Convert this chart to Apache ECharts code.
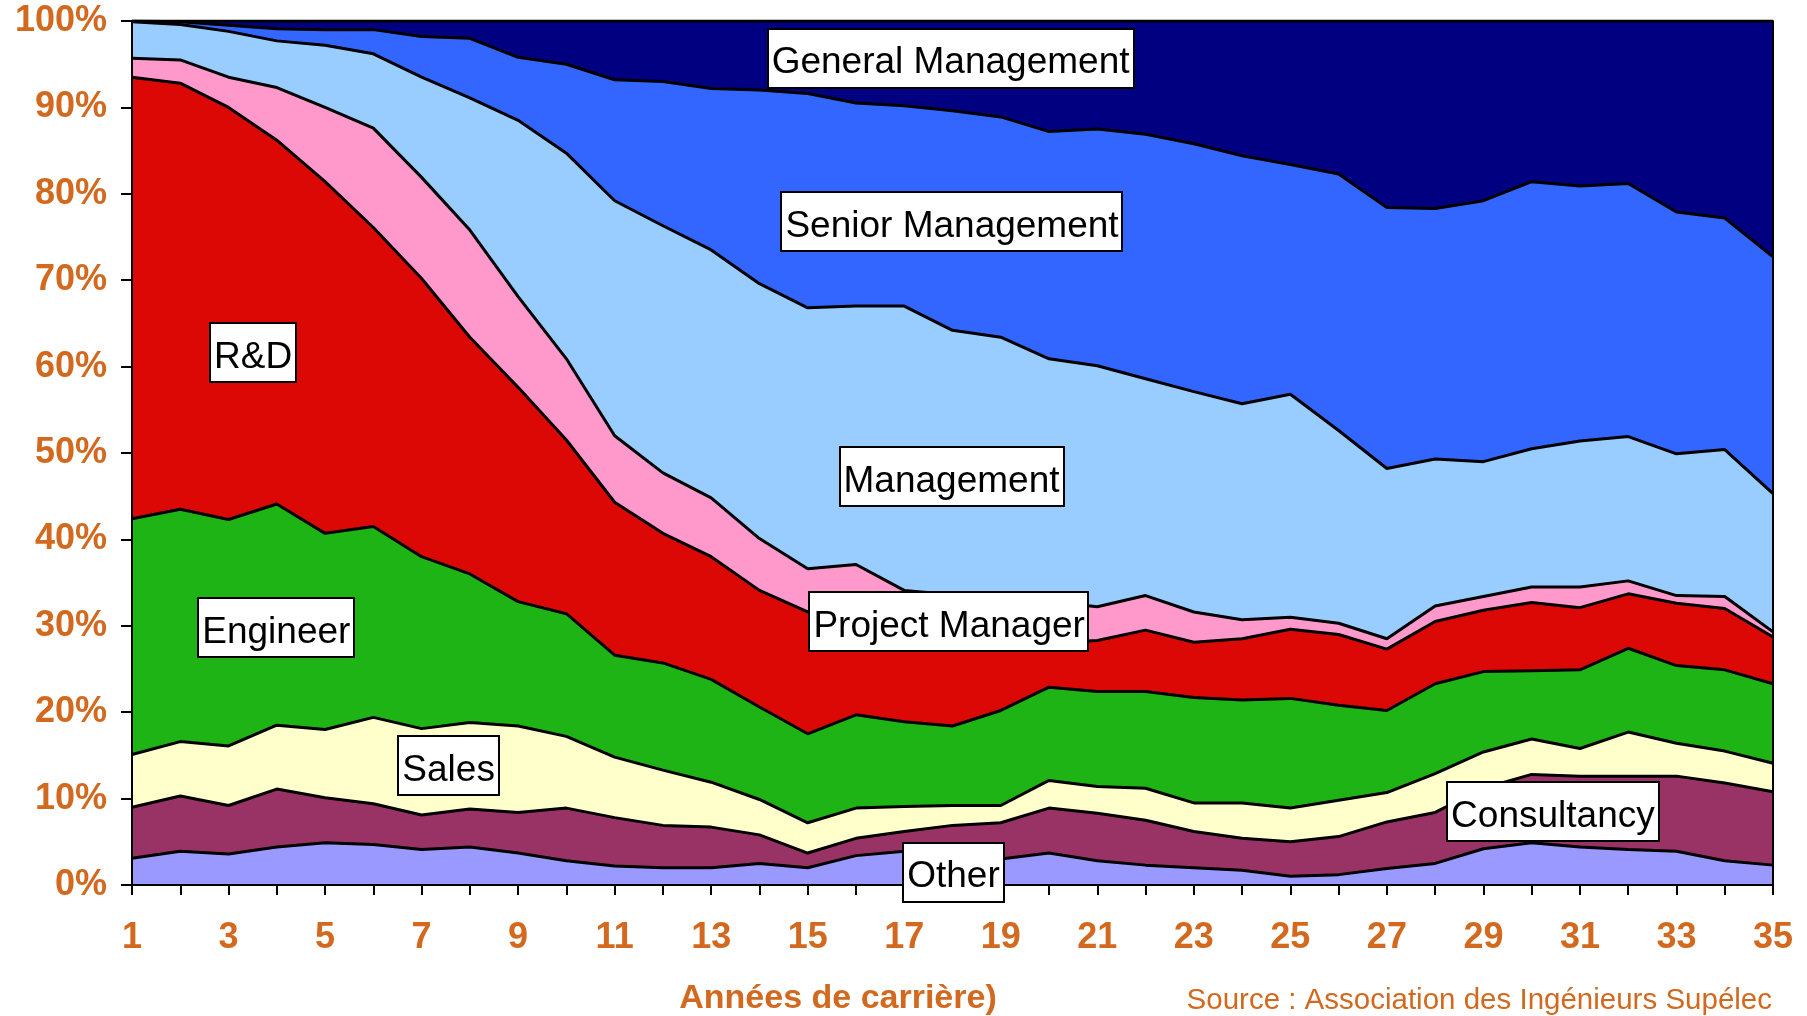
<!DOCTYPE html>
<html><head><meta charset="utf-8">
<script src="https://cdn.jsdelivr.net/npm/echarts@6/dist/echarts.min.js"></script>
<style>html,body{margin:0;padding:0;background:#fff}#c{width:1807px;height:1016px}</style>
</head><body><div id="c"></div>
<script>
const years = ['1','2','3','4','5','6','7','8','9','10','11','12','13','14','15','16','17','18','19','20','21','22','23','24','25','26','27','28','29','30','31','32','33','34','35'];
const yTicks = [0,10,20,30,40,50,60,70,80,90,100];
const other = [3.1,3.9,3.6,4.4,4.9,4.7,4.1,4.4,3.7,2.8,2.2,2.0,2.0,2.5,2.0,3.4,3.9,3.4,3.0,3.7,2.8,2.3,2.0,1.7,1.0,1.2,1.9,2.5,4.2,4.9,4.4,4.1,3.9,2.8,2.3];
const consultancy = [5.9,6.4,5.6,6.7,5.2,4.7,4.0,4.4,4.7,6.1,5.6,4.9,4.7,3.3,1.7,2.0,2.3,3.5,4.2,5.2,5.5,5.2,4.2,3.7,4.0,4.4,5.4,5.9,7.0,7.9,8.2,8.5,8.7,9.0,8.5];
const sales = [6.1,6.3,6.9,7.4,7.9,10.0,10.0,10.0,10.0,8.3,7.0,6.4,5.2,4.1,3.5,3.5,2.9,2.3,2.0,3.2,3.1,3.7,3.3,4.1,3.9,4.2,3.4,4.5,4.2,4.1,3.2,5.1,3.8,3.7,3.3];
const engineer = [27.3,26.9,26.2,25.6,22.7,22.1,19.9,17.2,14.4,14.2,11.8,12.4,11.9,10.7,10.3,10.8,9.8,9.2,11.0,10.8,11.0,11.2,12.2,11.9,12.7,11.0,9.5,10.4,9.3,7.9,9.1,9.7,9.0,9.4,9.2];
const rnd = [51.1,49.3,47.7,42.1,40.7,34.6,32.2,27.4,24.8,20.1,17.7,15.0,14.2,13.5,14.1,10.8,10.6,10.4,8.1,5.1,5.9,7.1,6.4,7.1,8.0,8.2,7.1,7.2,7.1,7.9,7.2,6.3,7.2,7.1,5.4];
const projectManager = [2.2,2.7,3.5,6.1,8.6,11.5,11.7,12.4,10.5,9.4,7.7,7.0,6.8,6.0,5.0,6.6,4.6,4.8,4.9,4.8,3.9,4.0,3.5,2.2,1.4,1.3,1.2,1.8,1.6,1.8,2.4,1.5,0.9,1.4,0.6];
const management = [4.2,4.1,5.3,5.4,7.2,8.6,11.6,15.3,20.4,23.8,27.2,28.6,28.7,29.5,30.2,29.9,32.9,30.6,30.2,28.1,27.9,25.1,25.5,25.0,25.8,22.3,19.7,17.0,15.6,16.0,16.9,16.7,16.4,17.0,16.0];
const seniorManagement = [0.1,0.3,0.7,1.4,1.8,2.8,4.7,6.9,7.3,10.3,14.0,16.7,18.7,22.4,24.8,23.5,23.2,25.4,25.5,26.3,27.4,28.3,28.7,28.7,26.6,29.7,30.2,29.0,30.2,30.9,29.5,29.3,28.0,26.8,27.4];
const generalManagement = [0.0,0.1,0.5,0.9,1.0,1.0,1.8,2.0,4.2,5.0,6.8,7.0,7.8,8.0,8.4,9.5,9.8,10.4,11.1,12.8,12.5,13.1,14.2,15.6,16.6,17.7,21.6,21.7,20.8,18.6,19.1,18.8,22.1,22.8,27.3];

const seriesNames = ['Other','Consultancy','Sales','Engineer','R&D','Project Manager','Management','Senior Management','General Management'];
const seriesValues = [other, consultancy, sales, engineer, rnd, projectManager, management, seniorManagement, generalManagement];
const colors = ['#9999FF','#993366','#FFFFCC','#1EB416','#DC0806','#FF99CC','#99CCFF','#3366FF','#000080'];

// annotation anchors (year, percent) for the boxed labels
const annotations = [
  ['General Management', 17.96, 95.7],
  ['Senior Management', 17.99, 76.8],
  ['Management', 17.98, 47.25],
  ['Project Manager', 17.93, 30.5],
  ['Other', 18.02, 1.5],
  ['R&D', 3.51, 61.6],
  ['Engineer', 3.99, 29.8],
  ['Sales', 7.56, 13.8],
  ['Consultancy', 30.44, 8.5]
];

const ORANGE = '#D2691E';
const FONT = '"Liberation Sans", Arial, Helvetica, sans-serif';
const chart = echarts.init(document.getElementById('c'), null, {renderer: 'canvas'});

chart.setOption({
  animation: false,
  backgroundColor: '#fff',
  grid: {left: 132, right: 34, top: 21, bottom: 131},
  xAxis: {
    type: 'category', data: years, boundaryGap: false, z: 10,
    axisLine: {show: true, lineStyle: {color: '#000', width: 2}},
    axisTick: {show: true, interval: 0, length: 10, lineStyle: {color: '#000', width: 2}},
    axisLabel: {interval: 1, color: ORANGE, fontWeight: 'bold', fontSize: 36, fontFamily: FONT, margin: 35},
    splitLine: {show: false}
  },
  yAxis: [{
    type: 'value', min: yTicks[0], max: yTicks[yTicks.length - 1], interval: 10, z: 10,
    axisLine: {show: true, lineStyle: {color: '#000', width: 2}},
    axisTick: {show: true, length: 11, lineStyle: {color: '#000', width: 2}},
    axisLabel: {formatter: '{value}%', color: ORANGE, fontWeight: 'bold', fontSize: 36, fontFamily: FONT, margin: 25},
    splitLine: {show: false}
  }, {
    type: 'value', position: 'right', min: 0, max: 100, z: 10,
    axisLine: {show: true, lineStyle: {color: '#000', width: 2}},
    axisTick: {show: false}, axisLabel: {show: false}, splitLine: {show: false}
  }],
  series: seriesNames.map((name, i) => ({
    name: name, type: 'line', stack: 'total', yAxisIndex: 0,
    data: seriesValues[i],
    showSymbol: false, symbol: 'none',
    lineStyle: {color: '#000', width: 3},
    areaStyle: {color: colors[i], opacity: 1},
    itemStyle: {color: colors[i]},
    z: 2
  }))
});

function yearToPixel(yr, pct) {
  const i0 = Math.floor(yr - 1), i1 = Math.min(i0 + 1, years.length - 1);
  const f = (yr - 1) - i0;
  const p0 = chart.convertToPixel({xAxisIndex: 0, yAxisIndex: 0}, [i0, pct]);
  const p1 = chart.convertToPixel({xAxisIndex: 0, yAxisIndex: 0}, [i1, pct]);
  return [p0[0] + (p1[0] - p0[0]) * f, p0[1]];
}

const measureCtx = document.createElement('canvas').getContext('2d');
measureCtx.font = '37px ' + FONT;

const g = [];
annotations.forEach(a => {
  const p = yearToPixel(a[1], a[2]);
  const w = measureCtx.measureText(a[0]).width + 8;
  const h = 59;
  g.push({
    type: 'rect', z: 100,
    shape: {x: Math.round(p[0] - w / 2), y: Math.round(p[1] - h / 2), width: Math.round(w), height: h},
    style: {fill: '#fff', stroke: '#000', lineWidth: 2}
  });
  g.push({
    type: 'text', x: p[0], y: p[1] + 5, z: 101,
    style: {text: a[0], fontSize: 37, fontFamily: FONT, fill: '#000', align: 'center', verticalAlign: 'middle'}
  });
});
g.push({
  type: 'text', x: 838, y: 999, z: 100,
  style: {text: 'Années de carrière)', fontSize: 34, fontWeight: 'bold', fontFamily: FONT, fill: ORANGE, align: 'center', verticalAlign: 'middle'}
});
g.push({
  type: 'text', x: 1772, y: 1001, z: 100,
  style: {text: 'Source : Association des Ingénieurs Supélec', fontSize: 29.5, fontFamily: FONT, fill: ORANGE, align: 'right', verticalAlign: 'middle'}
});
chart.setOption({graphic: g});
</script>
</body></html>
